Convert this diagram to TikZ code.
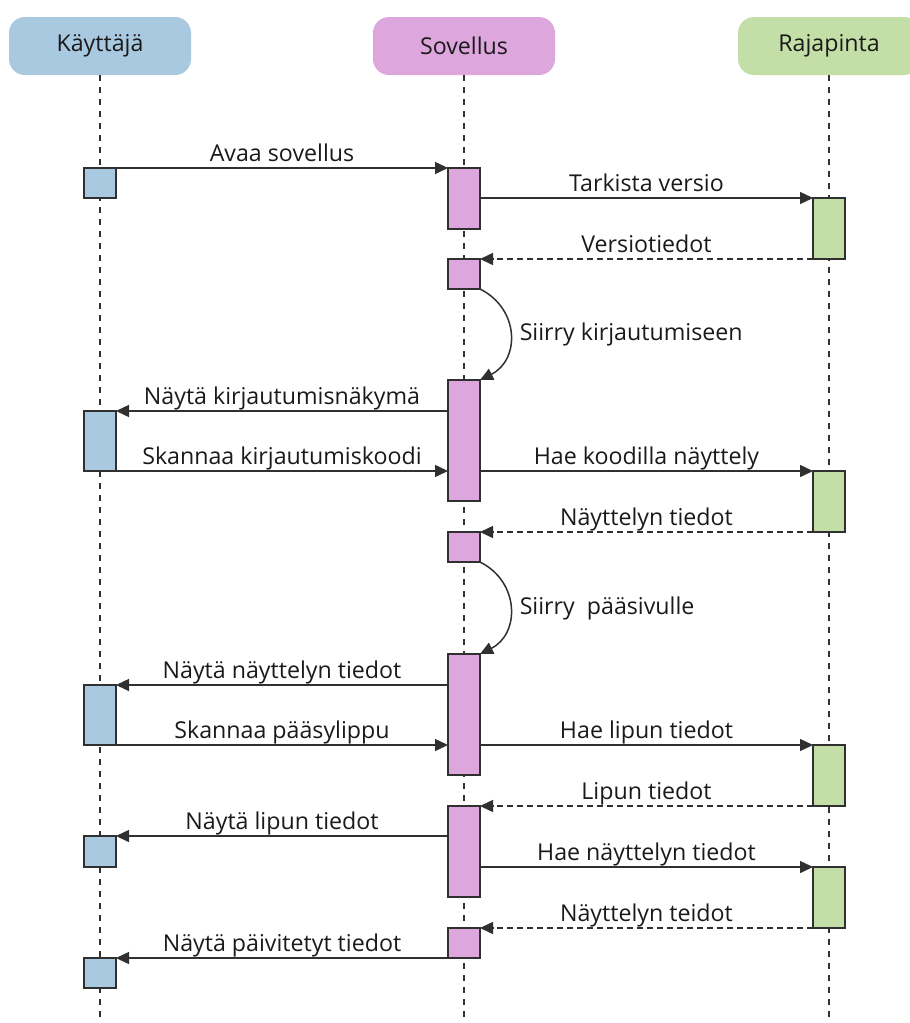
\documentclass[tikz,border=0pt]{standalone}
\usepackage{fontspec}
\setmainfont{Open Sans}
\usetikzlibrary{arrows.meta}
\definecolor{userc}{HTML}{A9C9E0}
\definecolor{appc}{HTML}{DDA6DD}
\definecolor{apic}{HTML}{C3DFA7}
\definecolor{linec}{HTML}{303030}
\definecolor{textc}{HTML}{1A1A1A}
\begin{document}
\begin{tikzpicture}[x=1pt,y=-1pt,
  font=\fontsize{23.2}{28}\selectfont, text=textc,
  head/.style={fill=#1, rounded corners=16pt, minimum width=182pt,
    minimum height=58pt, inner sep=0pt, outer sep=0pt},
  act/.style={draw=linec, line width=1.5pt, fill=#1, minimum width=32pt,
    inner sep=0pt, outer sep=0pt, anchor=north},
  lifeline/.style={draw=linec, line width=1.2pt, dash pattern=on 6pt off 6pt},
  msg/.style={draw=linec, line width=1.5pt, -{Triangle[length=13pt,width=12pt]}},
  ret/.style={msg, dash pattern=on 6pt off 4pt},
  lbl/.style={midway, anchor=base, yshift=7pt, inner sep=0pt},
  clbl/.style={pos=0.5, anchor=west, xshift=9pt, inner sep=0pt}]

\clip (0,0) rectangle (910,1023);
\coordinate (bot) at (0,1023);

% participants
\node[head=userc] (hu) at (100,46) {Käyttäjä};
\node[head=appc]  (hs) at (464,46) {Sovellus};
\node[head=apic]  (hr) at (829,46) {Rajapinta};

% lifelines
\draw[lifeline] (hu.south) -- (hu.south |- bot);
\draw[lifeline] (hs.south) -- (hs.south |- bot);
\draw[lifeline] (hr.south) -- (hr.south |- bot);

% activations: user
\node[act=userc, minimum height=30pt] (u1) at (100,168) {};
\node[act=userc, minimum height=60pt] (u2) at (100,411) {};
\node[act=userc, minimum height=60pt] (u3) at (100,685) {};
\node[act=userc, minimum height=31pt] (u4) at (100,836) {};
\node[act=userc, minimum height=30pt] (u5) at (100,958) {};

% activations: application
\node[act=appc, minimum height=61pt]  (s1) at (464,168) {};
\node[act=appc, minimum height=30pt]  (s2) at (464,259) {};
\node[act=appc, minimum height=121pt] (s3) at (464,380) {};
\node[act=appc, minimum height=30pt]  (s4) at (464,532) {};
\node[act=appc, minimum height=121pt] (s5) at (464,654) {};
\node[act=appc, minimum height=91pt]  (s6) at (464,806) {};
\node[act=appc, minimum height=30pt]  (s7) at (464,928) {};

% activations: API
\node[act=apic, minimum height=61pt] (g1) at (829,198) {};
\node[act=apic, minimum height=61pt] (g2) at (829,471) {};
\node[act=apic, minimum height=61pt] (g3) at (829,745) {};
\node[act=apic, minimum height=61pt] (g4) at (829,867) {};

% messages
\draw[msg] (u1.north east) -- (s1.north west) node[lbl] {Avaa sovellus};
\draw[msg] (g1.north west -| s1.east) -- (g1.north west) node[lbl] {Tarkista versio};
\draw[ret] (g1.south west) -- (s2.north east) node[lbl] {Versiotiedot};
\draw[msg] (s2.south east) .. controls +(40,20) and +(40,-20) .. (s3.north east)
  node[clbl] {Siirry kirjautumiseen};

\draw[msg] (u2.north east -| s3.west) -- (u2.north east) node[lbl] {Näytä kirjautumisnäkymä};
\draw[msg] (u2.south east) -- (u2.south east -| s3.west) node[lbl] {Skannaa kirjautumiskoodi};
\draw[msg] (g2.north west -| s3.east) -- (g2.north west) node[lbl] {Hae koodilla näyttely};
\draw[ret] (g2.south west) -- (s4.north east) node[lbl] {Näyttelyn tiedot};
\draw[msg] (s4.south east) .. controls +(40,20) and +(40,-20) .. (s5.north east)
  node[clbl] {Siirry\ \ pääsivulle};

\draw[msg] (u3.north east -| s5.west) -- (u3.north east) node[lbl] {Näytä näyttelyn tiedot};
\draw[msg] (u3.south east) -- (u3.south east -| s5.west) node[lbl] {Skannaa pääsylippu};
\draw[msg] (g3.north west -| s5.east) -- (g3.north west) node[lbl] {Hae lipun tiedot};
\draw[ret] (g3.south west) -- (s6.north east) node[lbl] {Lipun tiedot};

\draw[msg] (u4.north east -| s6.west) -- (u4.north east) node[lbl] {Näytä lipun tiedot};
\draw[msg] (g4.north west -| s6.east) -- (g4.north west) node[lbl] {Hae näyttelyn tiedot};
\draw[ret] (g4.south west) -- (s7.north east) node[lbl] {Näyttelyn teidot};
\draw[msg] (s7.south west) -- (u5.north east) node[lbl] {Näytä päivitetyt tiedot};
\end{tikzpicture}
\end{document}
